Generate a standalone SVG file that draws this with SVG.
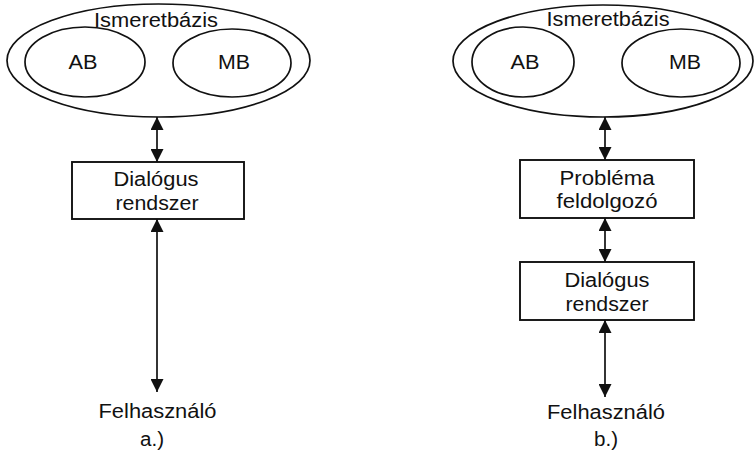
<svg xmlns="http://www.w3.org/2000/svg" width="754" height="476" viewBox="0 0 754 476">
<style>
.sh{fill:none;stroke:#111;stroke-width:1.7}
.bx{fill:#fff;stroke:#111;stroke-width:1.9}
.t{font-family:"Liberation Sans",Arial,sans-serif;font-size:19.5px;fill:#111;text-anchor:middle}
.cn{stroke:#111;stroke-width:1.7;fill:none;marker-start:url(#ah);marker-end:url(#ah)}
</style>
<defs>
<marker id="ah" markerUnits="userSpaceOnUse" markerWidth="13" markerHeight="13" refX="13" refY="6.5" orient="auto-start-reverse">
<path d="M0,0 L13,6.5 L0,13 z" fill="#111"/>
</marker>
</defs>
<rect width="754" height="476" fill="#fff"/>
<g id="a-ismeretbazis">
<ellipse class="sh" cx="158.5" cy="60.5" rx="151.5" ry="56.5"/>
<text class="t" x="156" y="27" textLength="124" lengthAdjust="spacingAndGlyphs">Ismeretbázis</text>
</g>
<g id="a-ab">
<ellipse class="sh" cx="85" cy="62" rx="60" ry="35"/>
<text class="t" x="83" y="69" textLength="29" lengthAdjust="spacingAndGlyphs">AB</text>
</g>
<g id="a-mb">
<ellipse class="sh" cx="232" cy="63" rx="59" ry="34"/>
<text class="t" x="234" y="69" textLength="32" lengthAdjust="spacingAndGlyphs">MB</text>
</g>
<g id="a-dialogus">
<rect class="bx" x="72" y="162" width="172" height="57"/>
<text class="t" x="156" y="186" textLength="85" lengthAdjust="spacingAndGlyphs">Dialógus</text>
<text class="t" x="157" y="210" textLength="83" lengthAdjust="spacingAndGlyphs">rendszer</text>
</g>
<g id="a-felhasznalo">
<text class="t" x="157.5" y="418" textLength="118" lengthAdjust="spacingAndGlyphs">Felhasználó</text>
</g>
<text class="t" x="152" y="446" textLength="24" lengthAdjust="spacingAndGlyphs">a.)</text>
<g id="b-ismeretbazis">
<ellipse class="sh" cx="603" cy="61" rx="150" ry="56"/>
<text class="t" x="608" y="26" textLength="123" lengthAdjust="spacingAndGlyphs">Ismeretbázis</text>
</g>
<g id="b-ab">
<ellipse class="sh" cx="523" cy="62" rx="51" ry="35"/>
<text class="t" x="525" y="69" textLength="29" lengthAdjust="spacingAndGlyphs">AB</text>
</g>
<g id="b-mb">
<ellipse class="sh" cx="681" cy="63" rx="59" ry="34"/>
<text class="t" x="685" y="69" textLength="32" lengthAdjust="spacingAndGlyphs">MB</text>
</g>
<g id="b-problema">
<rect class="bx" x="520" y="160" width="174" height="58"/>
<text class="t" x="607" y="185" textLength="95" lengthAdjust="spacingAndGlyphs">Probléma</text>
<text class="t" x="607" y="208" textLength="101" lengthAdjust="spacingAndGlyphs">feldolgozó</text>
</g>
<g id="b-dialogus">
<rect class="bx" x="520" y="262" width="174" height="58"/>
<text class="t" x="607" y="287" textLength="85" lengthAdjust="spacingAndGlyphs">Dialógus</text>
<text class="t" x="607" y="311" textLength="83" lengthAdjust="spacingAndGlyphs">rendszer</text>
</g>
<g id="b-felhasznalo">
<text class="t" x="606" y="419" textLength="118" lengthAdjust="spacingAndGlyphs">Felhasználó</text>
</g>
<text class="t" x="606" y="446" textLength="24" lengthAdjust="spacingAndGlyphs">b.)</text>
<g id="connectors">
<line class="cn" x1="157" y1="117" x2="157" y2="162"/>
<line class="cn" x1="157" y1="219" x2="157" y2="392"/>
<line class="cn" x1="605" y1="117" x2="605" y2="160"/>
<line class="cn" x1="605" y1="218" x2="605" y2="262"/>
<line class="cn" x1="605" y1="320" x2="605" y2="397"/>
</g>
</svg>
